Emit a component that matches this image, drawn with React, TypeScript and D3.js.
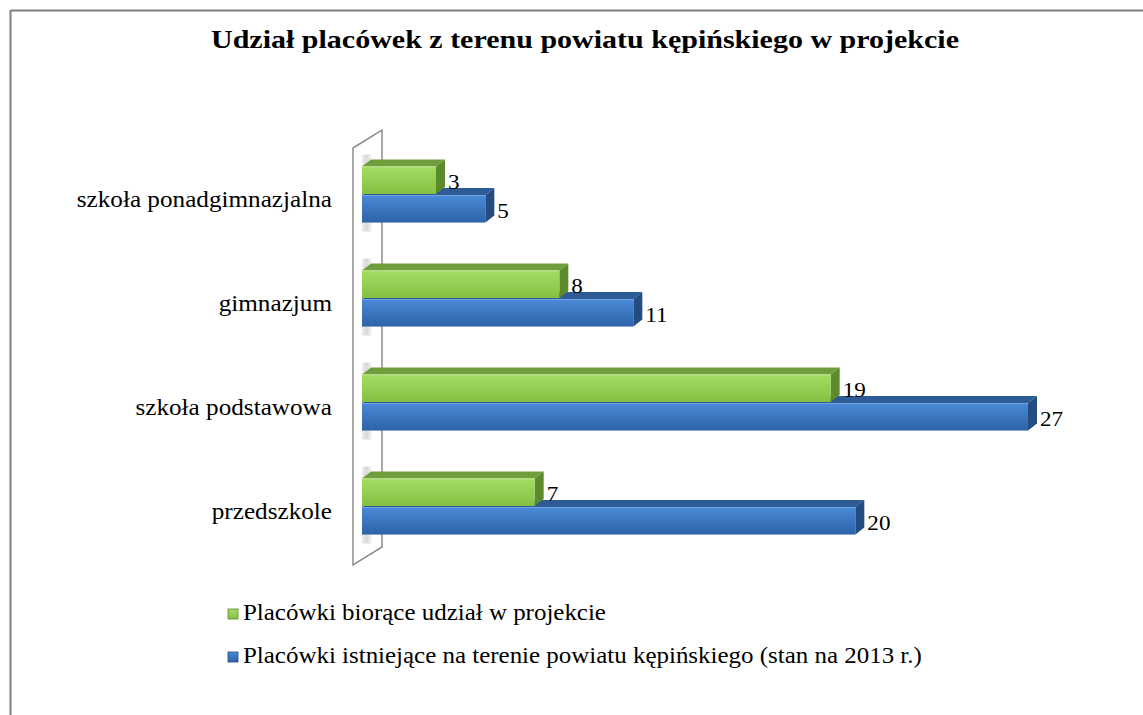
import React from 'react';
import * as d3 from 'd3';

const categories = [
  'szkoła ponadgimnazjalna',
  'gimnazjum',
  'szkoła podstawowa',
  'przedszkole',
];
const participating = [3, 8, 19, 7];
const existing = [5, 11, 27, 20];
const seriesNames = [
  'Placówki biorące udział w projekcie',
  'Placówki istniejące na terenie powiatu kępińskiego (stan na 2013 r.)',
];
const title = 'Udział placówek z terenu powiatu kępińskiego w projekcie';

const WIDTH = 1143;
const HEIGHT = 715;
const FONT = '"Liberation Serif", "Times New Roman", serif';
const SX = 1.05; // text in the source image is stretched horizontally
const DX = 9;
const DY = -7;

const GREEN = { front0: '#a2dc62', front1: '#86c043', top: '#6f9f3a', side: '#5c8a2c' };
const BLUE = { front0: '#4a8ad8', front1: '#2d62a6', top: '#2c5b96', side: '#234c80' };

const Stretched: React.FC<{
  x: number;
  y: number;
  size: number;
  anchor?: 'start' | 'middle' | 'end';
  weight?: string;
  sx?: number;
  children: React.ReactNode;
}> = ({ x, y, size, anchor = 'start', weight = 'normal', sx = SX, children }) => (
  <text
    transform={`translate(${x},${y}) scale(${sx},1)`}
    textAnchor={anchor}
    fontFamily={FONT}
    fontSize={size}
    fontWeight={weight}
    fill="#000"
  >
    {children}
  </text>
);

const Bar3D: React.FC<{
  x0: number;
  x1: number;
  y0: number;
  y1: number;
  colors: typeof GREEN;
  grad: string;
}> = ({ x0, x1, y0, y1, colors, grad }) => {
  const top = [
    [x0, y0],
    [x1, y0],
    [x1 + DX, y0 + DY],
    [x0 + DX, y0 + DY],
  ];
  const side = [
    [x1, y0],
    [x1 + DX, y0 + DY],
    [x1 + DX, y1 + DY],
    [x1, y1],
  ];
  const pts = (p: number[][]) => p.map((d) => d.join(',')).join(' ');
  return (
    <g>
      <polygon points={pts(top)} fill={colors.top} />
      <polygon points={pts(side)} fill={colors.side} />
      <rect x={x0} y={y0} width={x1 - x0} height={y1 - y0} fill={`url(#${grad})`} />
      <line x1={x0} x2={x1} y1={y0 + 0.5} y2={y0 + 0.5} stroke="#ffffff" strokeOpacity={0.25} />
    </g>
  );
};

export default function App() {
  const x = d3.scaleLinear().domain([0, 30]).range([362, 1102]);
  const y = d3.scaleBand<string>().domain(categories).range([142, 558]).padding(0);
  const barH = y.bandwidth() * 0.265;

  const wall = [
    [353, 148],
    [382, 130],
    [382, 547],
    [353, 565],
  ];

  return (
    <svg
      width={WIDTH}
      height={HEIGHT}
      style={{ position: 'absolute', left: 0, top: 0, background: '#fff' }}
    >
      <defs>
        <linearGradient id="gFront" x1="0" y1="0" x2="0" y2="1">
          <stop offset="0" stopColor={GREEN.front0} />
          <stop offset="1" stopColor={GREEN.front1} />
        </linearGradient>
        <linearGradient id="bFront" x1="0" y1="0" x2="0" y2="1">
          <stop offset="0" stopColor={BLUE.front0} />
          <stop offset="1" stopColor={BLUE.front1} />
        </linearGradient>
        <linearGradient id="shadow" x1="0" y1="0" x2="1" y2="0">
          <stop offset="0" stopColor="#e6e6e6" />
          <stop offset="0.5" stopColor="#c8c8c8" />
          <stop offset="1" stopColor="#f5f5f5" />
        </linearGradient>
      </defs>

      <rect x={0} y={0} width={WIDTH} height={HEIGHT} fill="#fff" />
      {/* chart frame, cut off at right and bottom like the source */}
      <line x1={11} x2={WIDTH} y1={10.5} y2={10.5} stroke="#7f7f7f" strokeWidth={2} />
      <line x1={10.5} x2={10.5} y1={10} y2={HEIGHT} stroke="#7f7f7f" strokeWidth={2} />

      <Stretched x={585} y={48} size={25} anchor="middle" weight="bold" sx={1.2}>
        {title}
      </Stretched>

      {/* side wall */}
      <polygon
        points={wall.map((d) => d.join(',')).join(' ')}
        fill="#fff"
        stroke="#8c8c8c"
        strokeWidth={1.5}
      />
      {categories.map((c) => {
        const c0 = (y(c) as number) + y.bandwidth() / 2;
        return (
          <rect
            key={`sh-${c}`}
            x={362}
            y={c0 - barH - 12}
            width={10}
            height={barH * 2 + 22}
            fill="url(#shadow)"
            opacity={0.7}
          />
        );
      })}

      {categories.map((c, i) => {
        const c0 = (y(c) as number) + y.bandwidth() / 2;
        const gy0 = c0 - barH;
        const by0 = c0 + 1;
        return (
          <g key={c}>
            <Bar3D x0={x(0)} x1={x(existing[i])} y0={by0} y1={by0 + barH} colors={BLUE} grad="bFront" />
            <Bar3D x0={x(0)} x1={x(participating[i])} y0={gy0} y1={c0} colors={GREEN} grad="gFront" />
            <Stretched x={x(participating[i]) + 12} y={c0 - 5} size={22} sx={1.05}>
              {participating[i]}
            </Stretched>
            <Stretched x={x(existing[i]) + 12} y={by0 + barH - 5} size={22} sx={1.05}>
              {existing[i]}
            </Stretched>
            <Stretched x={332} y={c0 + 13} size={24} anchor="end">
              {c}
            </Stretched>
          </g>
        );
      })}

      {/* legend */}
      {seriesNames.map((name, i) => {
        const by = 620 + i * 43;
        return (
          <g key={name}>
            <rect
              x={228}
              y={by - 11}
              width={10}
              height={10}
              fill={i === 0 ? 'url(#gFront)' : 'url(#bFront)'}
              stroke={i === 0 ? GREEN.side : BLUE.side}
              strokeWidth={0.8}
            />
            <Stretched x={243} y={by} size={24} sx={1.04}>
              {name}
            </Stretched>
          </g>
        );
      })}
    </svg>
  );
}
